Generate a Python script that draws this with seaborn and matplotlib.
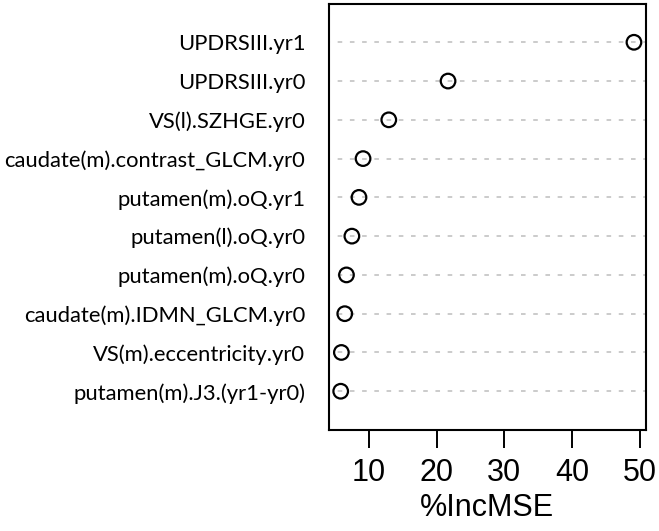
import matplotlib
matplotlib.use("Agg")
import matplotlib.pyplot as plt
import seaborn as sns
import pandas as pd

features = [
    "UPDRSIII.yr1",
    "UPDRSIII.yr0",
    "VS(l).SZHGE.yr0",
    "caudate(m).contrast_GLCM.yr0",
    "putamen(m).oQ.yr1",
    "putamen(l).oQ.yr0",
    "putamen(m).oQ.yr0",
    "caudate(m).IDMN_GLCM.yr0",
    "VS(m).eccentricity.yr0",
    "putamen(m).J3.(yr1-yr0)",
]
inc_mse = [49.15, 21.7, 12.95, 9.15, 8.55, 7.5, 6.7, 6.45, 5.95, 5.85]
xticks = [10, 20, 30, 40, 50]

df = pd.DataFrame({"feature": features, "IncMSE": inc_mse})

sns.set_style("white")
fig = plt.figure(figsize=(6.59, 5.31), dpi=100)
ax = fig.add_axes([0.4992, 0.1902, 0.4806, 0.8032])

ax.hlines(range(len(features)), 0, 100, colors="#bdbdbd", linestyles=(0, (3, 5)), linewidth=1.1, zorder=1)

sns.stripplot(data=df, x="IncMSE", y="feature", order=features, orient="h", jitter=False,
              ax=ax, marker="o", size=10.5, color="none", edgecolor="black", linewidth=1.6, zorder=3)

lo, hi = min(inc_mse), max(inc_mse)
pad = (hi - lo) * 0.04
ax.set_xlim(lo - pad, hi + pad)
ax.set_ylim(len(features), -1)
ax.set_xticks(xticks)
ax.set_xticklabels([str(t) for t in xticks], fontfamily="Liberation Sans", fontsize=22, color="black")
ax.tick_params(axis="x", bottom=True, direction="out", length=13, width=1.4, pad=7, color="black")
ax.tick_params(axis="y", length=0, pad=17)
for lbl in ax.get_yticklabels():
    lbl.set_fontfamily("Lato")
    lbl.set_fontsize(15.8)
    lbl.set_color("black")
ax.set_ylabel("")
ax.set_xlabel("%IncMSE", fontfamily="Liberation Sans", fontsize=22, labelpad=4, color="black")
for s in ax.spines.values():
    s.set_visible(True)
    s.set_color("black")
    s.set_linewidth(1.5)

fig.savefig("out.png", dpi=100, facecolor="white")
